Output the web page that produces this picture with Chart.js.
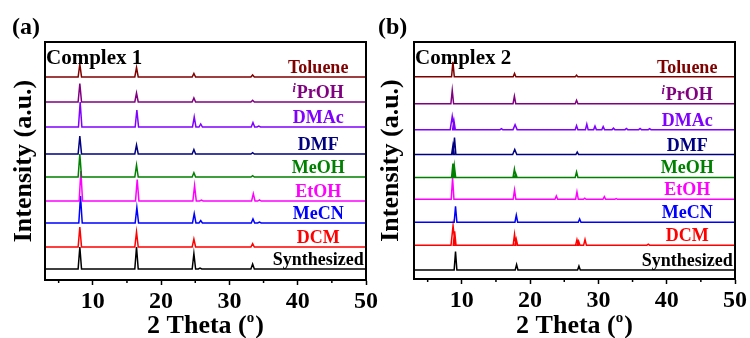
<!DOCTYPE html>
<html>
<head>
<meta charset="utf-8">
<script src="https://cdn.jsdelivr.net/npm/chart.js@4.4.0/dist/chart.umd.min.js"></script>
<style>
  html, body { margin: 0; padding: 0; background: #fff; }
  #wrap { position: relative; width: 750px; height: 338px; overflow: hidden; }
  canvas { position: absolute; top: 0; }
  #chartA { left: 0; }
  #chartB { left: 375px; }
</style>
</head>
<body>
<div id="wrap">
  <canvas id="chartA" width="390" height="338"></canvas>
  <canvas id="chartB" width="375" height="338"></canvas>
</div>
<script>
// soaking solvents, top trace first
var samples = ['Toluene', 'iPrOH', 'DMAc', 'DMF', 'MeOH', 'EtOH', 'MeCN', 'DCM', 'Synthesized'];
var xTicks = [10, 20, 30, 40, 50];
var xMinor = [5, 15, 25, 35, 45];

// vertical offset of every trace (a.u.)
var offsets1 = [203, 178, 153, 126, 103, 79, 57, 33, 11];
var offsets2 = [203, 176, 150, 125, 102, 80, 57, 34, 9];

// peaks: [2 theta, height, half width at base]
var complex1Peaks = [
  [[8.1, 13], [16.4, 9.5], [24.8, 3.5], [33.4, 2]],
  [[8.1, 18.5], [16.4, 9], [24.8, 4], [33.4, 1.7]],
  [[8.15, 25], [16.45, 17], [24.85, 10], [25.8, 3], [33.45, 4.5], [34.3, 1]],
  [[8.1, 18], [16.4, 9], [24.8, 4.5], [33.4, 1.3]],
  [[8.1, 23], [16.4, 12], [24.8, 4.3], [33.4, 1.3]],
  [[8.25, 30], [16.5, 21.5], [24.9, 15.5], [25.9, 1], [33.5, 7.3], [34.4, 1.2]],
  [[8.2, 27], [16.45, 15.5], [24.85, 9.3], [25.8, 2.5], [33.45, 4], [34.4, 1]],
  [[8.1, 20], [16.4, 15], [24.8, 8], [33.4, 3.3]],
  [[8.1, 22], [16.4, 22], [24.8, 15.5], [25.7, 1], [33.4, 5]]
];
var complex2Peaks = [
  [[8.7, 15], [17.72, 3.3], [26.8, 1.7]],
  [[8.6, 13.5], [17.7, 7.5], [26.8, 3.5]],
  [[8.6, 13.5, 0.3], [8.85, 9], [15.8, 1], [17.8, 5, 0.3], [26.8, 4], [28.3, 5.5], [29.5, 3.5], [30.7, 3], [32.2, 1.5], [34.1, 1.2], [36.1, 1.2], [37.5, 1]],
  [[8.7, 9], [8.93, 17], [17.75, 5, 0.3], [26.9, 2.5]],
  [[8.7, 14], [8.9, 12], [17.7, 8.3], [17.9, 4], [26.8, 5.5]],
  [[8.65, 21.7], [17.72, 9.5], [23.84, 3.3], [26.86, 7.5], [28.0, 1.2], [30.87, 2.7], [32.6, 0.8]],
  [[9.08, 16], [17.98, 7], [27.25, 3.3]],
  [[8.72, 19.5, 0.3], [8.95, 14], [17.72, 11], [17.97, 6], [26.86, 5.5], [27.1, 4], [28.04, 5.7], [37.3, 1]],
  [[9.08, 18.5], [18.02, 5.5], [27.15, 4]]
];

var colors = ['#800000', '#800080', '#8000FF', '#000080', '#008000', '#FF00FF', '#0000FF', '#FF0000', '#000000'];
var serif = 'Liberation Serif, Times New Roman, serif';

function pattern(peaks, offset, w0) {
  var pts = [{x: 3, y: offset}];
  peaks.forEach(function (p) {
    var w = p[2] || w0;
    pts.push({x: p[0] - w, y: offset}, {x: p[0], y: offset + p[1]}, {x: p[0] + w, y: offset});
  });
  pts.push({x: 50, y: offset});
  return pts;
}

function drawSampleLabel(ctx, name, x, y, color) {
  ctx.fillStyle = color;
  ctx.textBaseline = 'alphabetic';
  if (name === 'iPrOH') {
    ctx.font = 'bold 18px ' + serif;
    var main = 'PrOH';
    ctx.font = 'italic bold 12px ' + serif;
    var wi = ctx.measureText('i').width + 1;
    ctx.font = 'bold 18px ' + serif;
    var wm = ctx.measureText(main).width;
    var x0 = x - (wi + wm) / 2;
    ctx.font = 'italic bold 12px ' + serif;
    ctx.textAlign = 'left';
    ctx.fillText('i', x0, y - 6);
    ctx.font = 'bold 18px ' + serif;
    ctx.fillText(main, x0 + wi, y);
  } else {
    ctx.font = 'bold 18px ' + serif;
    ctx.textAlign = 'center';
    ctx.fillText(name, x, y);
  }
}

var decorPlugin = {
  id: 'decor',
  afterDatasetsDraw: function (chart, args, opts) {
    var ctx = chart.ctx, area = chart.chartArea;
    var xs = chart.scales.x, ys = chart.scales.y;
    ctx.save();
    // frame
    ctx.strokeStyle = '#000';
    ctx.lineWidth = 2;
    ctx.strokeRect(area.left, area.top, area.right - area.left, area.bottom - area.top);
    // minor ticks
    ctx.lineWidth = 1.5;
    xMinor.forEach(function (v) {
      var px = xs.getPixelForValue(v);
      ctx.beginPath();
      ctx.moveTo(px, area.bottom);
      ctx.lineTo(px, area.bottom + 3);
      ctx.stroke();
    });
    // trace labels
    samples.forEach(function (s, i) {
      drawSampleLabel(ctx, s, xs.getPixelForValue(43), ys.getPixelForValue(opts.offsets[i]) - 4, colors[i]);
    });
    // panel title and tag
    ctx.fillStyle = '#000';
    ctx.textAlign = 'left';
    ctx.textBaseline = 'alphabetic';
    ctx.font = 'bold 21px ' + serif;
    ctx.fillText(opts.title, area.left + 1, area.top + 22);
    ctx.font = 'bold 24px ' + serif;
    ctx.fillText(opts.tag, opts.tagX, 34);
    // x axis title with superscript
    ctx.font = 'bold 26px ' + serif;
    var a = '2 Theta (', b = ')';
    var wa = ctx.measureText(a).width, wb = ctx.measureText(b).width;
    ctx.font = 'bold 15px ' + serif;
    var wo = ctx.measureText('o').width + 1;
    var x0 = (area.left + area.right) / 2 - (wa + wo + wb) / 2;
    ctx.font = 'bold 26px ' + serif;
    ctx.fillText(a, x0, 333);
    ctx.fillText(b, x0 + wa + wo, 333);
    ctx.font = 'bold 15px ' + serif;
    ctx.fillText('o', x0 + wa, 322);
    ctx.restore();
  }
};

function makeChart(id, peaks, offsets, w0, p) {
  var datasets = samples.map(function (s, i) {
    return {
      label: s,
      data: pattern(peaks[i], offsets[i], w0),
      showLine: true,
      borderColor: colors[i],
      borderWidth: 1.5,
      pointRadius: 0,
      tension: 0
    };
  });
  return new Chart(document.getElementById(id), {
    type: 'scatter',
    data: {datasets: datasets},
    options: {
      responsive: false,
      animation: false,
      devicePixelRatio: 1,
      layout: {padding: {left: 0, right: p.right, top: 42, bottom: 0}},
      plugins: {
        legend: {display: false},
        tooltip: {enabled: false},
        decor: {offsets: offsets, title: p.title, tag: p.tag, tagX: p.tagX}
      },
      scales: {
        x: {
          type: 'linear',
          min: 3,
          max: 50,
          afterBuildTicks: function (s) { s.ticks = xTicks.map(function (v) { return {value: v}; }); },
          afterFit: function (s) { s.height = p.xHeight; },
          ticks: {color: '#000', padding: 2, maxRotation: 0, autoSkip: false,
                  font: {family: serif, size: 24, weight: 'bold'}},
          grid: {drawOnChartArea: false, drawTicks: true, tickLength: 5, tickWidth: 1.5, tickColor: '#000'},
          border: {display: true, color: '#000', width: 2}
        },
        y: {
          type: 'linear',
          min: 0,
          max: 238,
          afterFit: function (s) { s.width = p.yWidth; },
          ticks: {display: false},
          grid: {display: false},
          border: {display: false},
          title: {display: true, text: 'Intensity (a.u.)', color: '#000',
                  font: {family: serif, size: 26, weight: 'bold'},
                  padding: {top: p.yTitlePad, bottom: 0}}
        }
      }
    },
    plugins: [decorPlugin]
  });
}

makeChart('chartA', complex1Peaks, offsets1, 0.25,
  {right: 24, xHeight: 58, yWidth: 45, yTitlePad: 9, title: 'Complex 1', tag: '(a)', tagX: 12});
makeChart('chartB', complex2Peaks, offsets2, 0.2,
  {right: 15, xHeight: 59, yWidth: 39, yTitlePad: 1, title: 'Complex 2', tag: '(b)', tagX: 3});
</script>
</body>
</html>
